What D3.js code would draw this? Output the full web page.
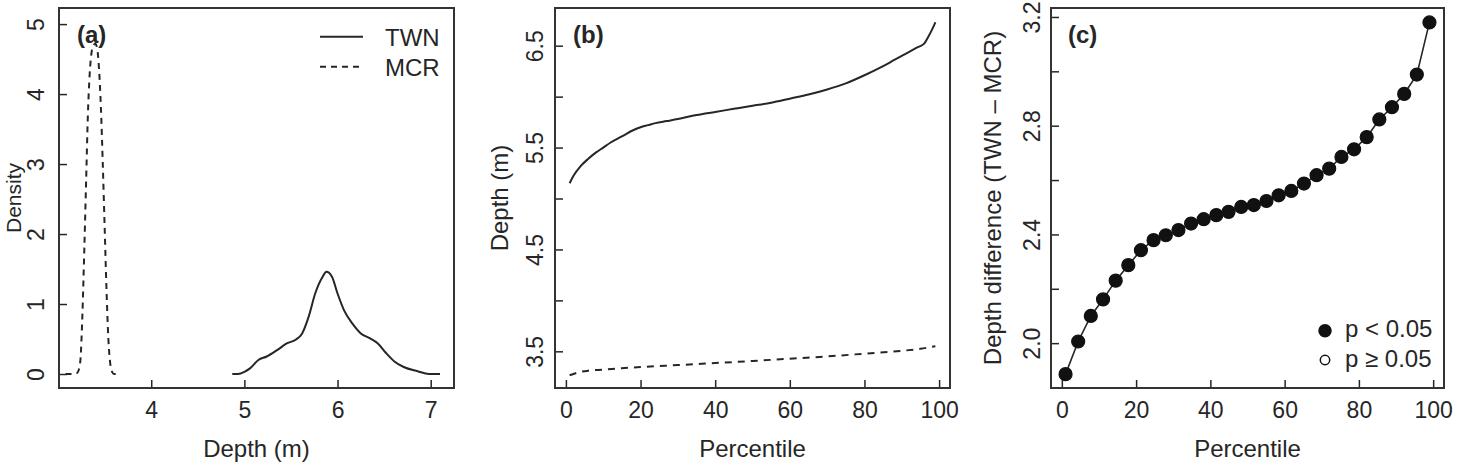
<!DOCTYPE html>
<html>
<head>
<meta charset="utf-8">
<script src="https://cdn.jsdelivr.net/npm/d3@7/dist/d3.min.js"></script>
<style>
  html, body { margin: 0; padding: 0; background: #fff; }
  svg { display: block; }
  text { font-family: "Liberation Sans", Arial, Helvetica, sans-serif; fill: #262626; }
</style>
</head>
<body>
<svg id="chart" width="1468" height="465"></svg>
<script>
// ---------- Panel (a): kernel densities of depth ----------
const densTwnX = [4.87, 4.93, 5.00, 5.06, 5.15, 5.24, 5.35, 5.46, 5.55, 5.62, 5.69, 5.76, 5.84, 5.88, 5.94, 6.00, 6.07, 6.16, 6.25, 6.35, 6.43, 6.52, 6.61, 6.71, 6.86, 6.98, 7.10];
const densTwnY = [0.00, 0.00, 0.03, 0.08, 0.20, 0.25, 0.34, 0.44, 0.49, 0.58, 0.82, 1.15, 1.39, 1.46, 1.39, 1.15, 0.91, 0.72, 0.58, 0.51, 0.44, 0.30, 0.18, 0.10, 0.04, 0.00, 0.00];
const densMcrX = [3.08, 3.14, 3.20, 3.22, 3.24, 3.26, 3.28, 3.30, 3.32, 3.34, 3.36, 3.38, 3.40, 3.42, 3.44, 3.46, 3.48, 3.50, 3.52, 3.54, 3.56, 3.58, 3.60, 3.62];
const densMcrY = [0.00, 0.00, 0.01, 0.05, 0.20, 0.80, 1.70, 2.70, 3.70, 4.30, 4.60, 4.70, 4.72, 4.65, 4.35, 3.80, 3.00, 2.10, 1.20, 0.50, 0.15, 0.03, 0.00, 0.00];

// ---------- Panel (b): depth percentiles ----------
const pctTwn = [1, 2, 4, 6, 8, 10, 12, 15, 18, 20, 22, 24, 27, 30, 35, 40, 45, 50, 55, 60, 65, 70, 75, 80, 85, 88, 91, 94, 96, 97, 98, 99];
const depthTwn = [5.15, 5.22, 5.32, 5.39, 5.45, 5.50, 5.55, 5.61, 5.67, 5.70, 5.72, 5.74, 5.76, 5.78, 5.82, 5.85, 5.88, 5.91, 5.94, 5.98, 6.02, 6.07, 6.13, 6.21, 6.30, 6.36, 6.42, 6.48, 6.52, 6.58, 6.65, 6.73];
const pctMcr = [1, 3, 6, 10, 20, 30, 40, 50, 60, 70, 80, 90, 95, 99];
const depthMcr = [3.265, 3.29, 3.31, 3.32, 3.346, 3.365, 3.385, 3.405, 3.428, 3.45, 3.477, 3.505, 3.525, 3.55];

// ---------- Panel (c): depth difference by percentile ----------
const pctDiff = [1, 4.4, 7.8, 11.1, 14.5, 17.9, 21.3, 24.7, 28.0, 31.4, 34.8, 38.2, 41.6, 44.9, 48.3, 51.7, 55.1, 58.4, 61.8, 65.2, 68.6, 72.0, 75.3, 78.7, 82.1, 85.5, 88.9, 92.2, 95.6, 99];
const depthDiff = [1.886, 2.006, 2.100, 2.161, 2.230, 2.287, 2.342, 2.379, 2.397, 2.416, 2.440, 2.456, 2.471, 2.483, 2.501, 2.508, 2.523, 2.544, 2.560, 2.587, 2.618, 2.642, 2.685, 2.713, 2.758, 2.823, 2.868, 2.917, 2.988, 3.180];
const significant = [true, true, true, true, true, true, true, true, true, true, true, true, true, true, true, true, true, true, true, true, true, true, true, true, true, true, true, true, true, true];

// ---------- Tick labels ----------
const aTicksX = [4, 5, 6, 7];
const aTicksY = [0, 1, 2, 3, 4, 5];
const bTicksY = [3.5, 4.0, 4.5, 5.0, 5.5, 6.0, 6.5];
const bLabelsY = ["3.5", "", "4.5", "", "5.5", "", "6.5"];
const pctTicks = [0, 20, 40, 60, 80, 100];
const cTicksY = [2.0, 2.2, 2.4, 2.6, 2.8, 3.0, 3.2];
const cLabelsY = ["2.0", "", "2.4", "", "2.8", "", "3.2"];

const seriesNames = ["TWN", "MCR"];
const sigNames = ["p < 0.05", "p \u2265 0.05"];

const svg = d3.select("#chart");
const INK = "#262626";
const TOP = 8, BOTTOM = 388;

function panel(opts) {
  const g = svg.append("g");
  const x = d3.scaleLinear().domain(opts.xDomain).range([opts.left, opts.right]);
  const y = d3.scaleLinear().domain(opts.yDomain).range([BOTTOM, TOP]);

  // bottom axis (inward ticks)
  const xa = g.append("g").attr("transform", `translate(0,${BOTTOM})`)
    .call(d3.axisBottom(x).tickValues(opts.xTicks).tickSizeInner(-8).tickSizeOuter(0).tickPadding(14)
      .tickFormat(d3.format("d")));
  xa.select(".domain").remove();
  xa.selectAll("line").attr("stroke", INK).attr("stroke-width", 1.5);
  xa.selectAll("text").attr("font-size", 23).attr("fill", INK)
    .style("font-family", '"Liberation Sans", Arial, sans-serif');

  // left axis (inward ticks, rotated labels)
  const ya = g.append("g").attr("transform", `translate(${opts.left},0)`)
    .call(d3.axisLeft(y).tickValues(opts.yTicks).tickSizeInner(-8).tickSizeOuter(0)
      .tickFormat((d, i) => opts.yLabels[i]));
  ya.select(".domain").remove();
  ya.selectAll("line").attr("stroke", INK).attr("stroke-width", 1.5);
  ya.selectAll("text")
    .attr("x", 0).attr("y", -opts.yLabelGap).attr("dy", 0)
    .attr("text-anchor", "middle")
    .attr("transform", "rotate(-90)")
    .attr("font-size", 23).attr("fill", INK)
    .style("font-family", '"Liberation Sans", Arial, sans-serif');

  // frame
  g.append("rect").attr("x", opts.left).attr("y", TOP)
    .attr("width", opts.right - opts.left).attr("height", BOTTOM - TOP)
    .attr("fill", "none").attr("stroke", "#333").attr("stroke-width", 2);

  // axis titles
  g.append("text").attr("x", (opts.left + opts.right) / 2).attr("y", 457)
    .attr("text-anchor", "middle").attr("font-size", 24).text(opts.xTitle);
  g.append("text")
    .attr("transform", `translate(${opts.left - opts.yTitleGap},${(TOP + BOTTOM) / 2}) rotate(-90)`)
    .attr("text-anchor", "middle").attr("font-size", opts.yTitleSize || 24).text(opts.yTitle);

  // panel tag
  g.append("text").attr("x", opts.left + opts.tagDx).attr("y", 43)
    .attr("font-size", 24).attr("font-weight", "bold").text(opts.tag);

  return { g, x, y };
}

// ---- Panel a ----
{
  const { g, x, y } = panel({
    left: 59, right: 454, xDomain: [3.01, 7.25], yDomain: [-0.2, 5.23],
    xTicks: aTicksX, yTicks: aTicksY, yLabels: aTicksY.map(String),
    xTitle: "Depth (m)", yTitle: "Density", yLabelGap: 15, yTitleGap: 38, yTitleSize: 21, tag: "(a)", tagDx: 18
  });
  const line = d3.line().x(d => x(d[0])).y(d => y(d[1])).curve(d3.curveMonotoneX);
  g.append("path").datum(d3.zip(densTwnX, densTwnY)).attr("d", line)
    .attr("fill", "none").attr("stroke", INK).attr("stroke-width", 2);
  g.append("path").datum(d3.zip(densMcrX, densMcrY)).attr("d", line)
    .attr("fill", "none").attr("stroke", INK).attr("stroke-width", 2).attr("stroke-dasharray", "6,5");

  // legend
  const leg = g.append("g");
  seriesNames.forEach((name, i) => {
    const yy = 36.7 + i * 30;
    leg.append("line").attr("x1", 320).attr("x2", 363).attr("y1", yy).attr("y2", yy)
      .attr("stroke", INK).attr("stroke-width", 2)
      .attr("stroke-dasharray", i === 1 ? "6,5" : null);
    leg.append("text").attr("x", 385).attr("y", yy + 9.5).attr("font-size", 24).text(name);
  });
}

// ---- Panel b ----
{
  const { g, x, y } = panel({
    left: 555, right: 950, xDomain: [-2.92, 102.92], yDomain: [3.14, 6.87],
    xTicks: pctTicks, yTicks: bTicksY, yLabels: bLabelsY,
    xTitle: "Percentile", yTitle: "Depth (m)", yLabelGap: 12, yTitleGap: 47, tag: "(b)", tagDx: 18
  });
  const line = d3.line().x(d => x(d[0])).y(d => y(d[1])).curve(d3.curveMonotoneX);
  g.append("path").datum(d3.zip(pctTwn, depthTwn)).attr("d", line)
    .attr("fill", "none").attr("stroke", INK).attr("stroke-width", 2);
  g.append("path").datum(d3.zip(pctMcr, depthMcr)).attr("d", line)
    .attr("fill", "none").attr("stroke", INK).attr("stroke-width", 2).attr("stroke-dasharray", "7,6");
}

// ---- Panel c ----
{
  const { g, x, y } = panel({
    left: 1051, right: 1444, xDomain: [-2.92, 102.92], yDomain: [1.835, 3.233],
    xTicks: pctTicks, yTicks: cTicksY, yLabels: cLabelsY,
    xTitle: "Percentile", yTitle: "Depth difference (TWN \u2013 MCR)", yLabelGap: 11, yTitleGap: 50, tag: "(c)", tagDx: 17
  });
  const pts = d3.zip(pctDiff, depthDiff, significant);
  const line = d3.line().x(d => x(d[0])).y(d => y(d[1]));
  g.append("path").datum(pts).attr("d", line)
    .attr("fill", "none").attr("stroke", INK).attr("stroke-width", 1.6);
  g.selectAll("circle.pt").data(pts).join("circle").attr("class", "pt")
    .attr("cx", d => x(d[0])).attr("cy", d => y(d[1])).attr("r", 6.5)
    .attr("fill", d => d[2] ? "#111" : "#fff").attr("stroke", "#111").attr("stroke-width", 1.2);

  // legend
  sigNames.forEach((name, i) => {
    const yy = 330.7 + i * 29.3;
    g.append("circle").attr("cx", 1325).attr("cy", yy).attr("r", i === 0 ? 6 : 4.7)
      .attr("fill", i === 0 ? "#111" : "#fff").attr("stroke", "#111").attr("stroke-width", 1.5);
    g.append("text").attr("x", 1345).attr("y", yy + 6.5).attr("font-size", 24).text(name);
  });
}
</script>
</body>
</html>
